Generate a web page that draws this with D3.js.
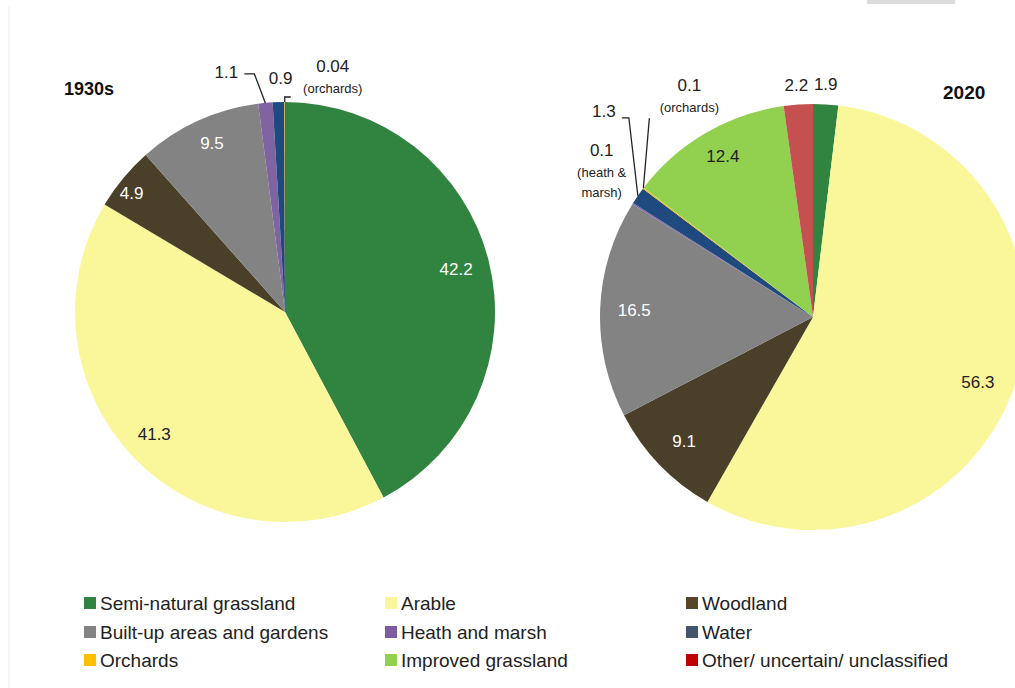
<!DOCTYPE html>
<html lang="en">
<head>
<meta charset="UTF-8">
<title>Land use 1930s vs 2020</title>
<script src="https://cdn.jsdelivr.net/npm/d3@7/dist/d3.min.js"></script>
<style>
  body { margin: 0; background: #fff; font-family: 'Liberation Sans', Arial, sans-serif; }
  svg { display: block; }
</style>
</head>
<body>
<div id="chart"></div>
<script>
// categories in drawing order (clockwise from 12 o'clock)
var categories = ["Semi-natural grassland", "Arable", "Woodland", "Built-up areas and gardens",
                  "Heath and marsh", "Water", "Orchards", "Improved grassland", "Other/ uncertain/ unclassified"];
var values1930 = [42.2, 41.3, 4.9, 9.5, 1.1, 0.9, 0.04, 0, 0];
var values2020 = [1.9, 56.3, 9.1, 16.5, 0.1, 1.3, 0.1, 12.4, 2.2];
var sliceColors  = ["#31843f", "#faf79b", "#4a4029", "#838383", "#8064a2", "#1f4a80", "#ffc000", "#92d050", "#c55050"];
var legendColors = ["#31843f", "#faf79b", "#5a4426", "#838383", "#7f5a9e", "#44546a", "#ffc000", "#92d050", "#c00000"];
var years = ["1930s", "2020"];

var w = 1015, h = 688;
var svg = d3.select("#chart").append("svg").attr("width", w).attr("height", h);

// faint screenshot frame bits
svg.append("rect").attr("x", 867).attr("y", 0).attr("width", 88).attr("height", 4).attr("fill", "#dcdcdc");
svg.append("line").attr("x1", 9).attr("x2", 9).attr("y1", 6).attr("y2", h).attr("stroke", "#f1f1f1");

var pie = d3.pie().sort(null).value(function(d) { return d; });

function drawPie(vals, cx, cy, r, cfg) {
  var g = svg.append("g").attr("transform", "translate(" + cx + "," + cy + ")");
  var arcs = pie(vals);
  var arc = d3.arc().innerRadius(0).outerRadius(r);
  g.selectAll("path").data(arcs).enter().append("path")
    .attr("d", arc)
    .attr("fill", function(d, i) { return sliceColors[i]; });

  // inside labels
  arcs.forEach(function(d, i) {
    if (cfg.inside[i] === undefined) return;
    var lr = r * (cfg.inside[i].k || 0.84);
    var c = d3.arc().innerRadius(lr).outerRadius(lr).centroid(d);
    g.append("text")
      .attr("x", c[0] + (cfg.inside[i].dx || 0)).attr("y", c[1] + (cfg.inside[i].dy || 0))
      .attr("text-anchor", "middle").attr("dy", "0.35em")
      .attr("font-size", 17)
      .attr("fill", cfg.inside[i].white ? "#fff" : "#222")
      .text(vals[i]);
  });

  // outside labels with optional leader lines
  arcs.forEach(function(d, i) {
    var o = cfg.outside[i];
    if (!o) return;
    var a = (d.startAngle + d.endAngle) / 2;
    var px = Math.sin(a) * r, py = -Math.cos(a) * r;
    var tx = px + o.dx, ty = py + o.dy;
    if (o.leader) {
      var pts = o.leader.map(function(p) { return [px + p[0], py + p[1]]; });
      pts.unshift([px, py]);
      g.append("path").attr("d", d3.line()(pts))
        .attr("fill", "none").attr("stroke", "#222").attr("stroke-width", 1.3);
    }
    var t = g.append("text").attr("x", tx).attr("y", ty)
      .attr("text-anchor", o.anchor || "middle").attr("font-size", 17).attr("fill", "#222");
    t.append("tspan").attr("x", tx).text(vals[i]);
    (o.sub || []).forEach(function(s, j) {
      t.append("tspan").attr("x", tx).attr("dy", j === 0 ? 21 : 20).attr("font-size", 13).text(s);
    });
  });
}

// 1930s
drawPie(values1930, 285, 312, 210, {
  inside: {0: {white: true}, 1: {dx: -3}, 2: {white: true, k: 0.93, dx: -3, dy: 6}, 3: {white: true, dy: -8}},
  outside: {
    4: {dx: -39, dy: -25, leader: [[-11, -29], [-21, -29]]},
    5: {dx: 2, dy: -18},
    6: {dx: 48, dy: -30, sub: ["(orchards)"], leader: [[0, -5], [6, -5]]}
  }
});
svg.append("text").attr("x", 64).attr("y", 95).attr("font-size", 18).attr("font-weight", "bold").attr("fill", "#111").text(years[0]);

// 2020
drawPie(values2020, 813, 317, 213, {
  inside: {1: {dx: -5, dy: 9}, 2: {white: true}, 3: {white: true}, 7: {dy: -6}},
  outside: {
    0: {dx: 0, dy: -14},
    4: {dx: -31, dy: -48, sub: ["(heath &", "marsh)"]},
    5: {dx: -34, dy: -79, leader: [[-9, -78], [-16, -78]]},
    6: {dx: 46, dy: -97, sub: ["(orchards)"], leader: [[6, -70]]},
    8: {dx: -2, dy: -14}
  }
});
svg.append("text").attr("x", 943).attr("y", 99).attr("font-size", 19).attr("font-weight", "bold").attr("fill", "#111").text(years[1]);

// legend
var legCols = [84, 385, 686], legRows = [603, 632, 660];
var leg = svg.append("g");
categories.forEach(function(c, i) {
  var x = legCols[i % 3], y = legRows[Math.floor(i / 3)];
  leg.append("rect").attr("x", x).attr("y", y - 6).attr("width", 12).attr("height", 12).attr("fill", legendColors[i]);
  leg.append("text").attr("x", x + 16).attr("y", y).attr("dy", "0.35em")
    .attr("font-size", 19).attr("fill", "#222").text(c);
});
</script>
</body>
</html>
